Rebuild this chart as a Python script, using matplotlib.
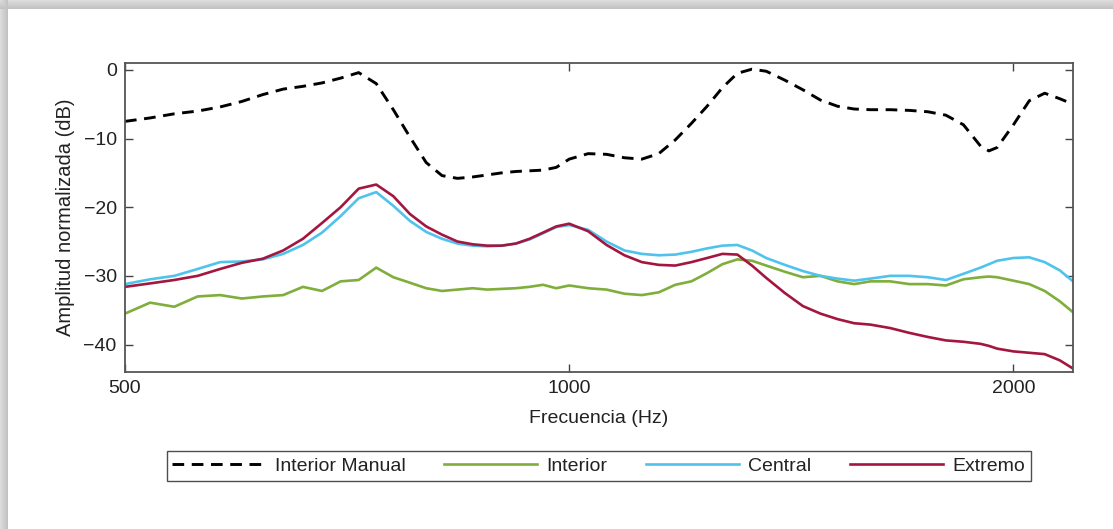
import numpy as np
import matplotlib
matplotlib.use("Agg")
import matplotlib.pyplot as plt
from matplotlib.ticker import FixedLocator, NullLocator, FixedFormatter

plt.rcParams['font.family'] = ['Liberation Sans', 'DejaVu Sans']

# frequency grid (Hz)
freq = [500, 520, 540, 560, 580, 600, 620, 640, 660, 680, 700, 720, 740, 760,
        780, 800, 820, 840, 860, 880, 900, 920, 940, 960, 980, 1000, 1030, 1060,
        1090, 1120, 1150, 1180, 1210, 1240, 1270, 1300, 1330, 1360, 1400, 1440,
        1480, 1520, 1560, 1600, 1650, 1700, 1750, 1800, 1850, 1900, 1925, 1950,
        2000, 2050, 2100, 2150, 2195]

# normalized amplitude (dB)
interior_manual = [-7.5, -7.0, -6.4, -6.0, -5.4, -4.6, -3.6, -2.8, -2.4, -1.9,
                   -1.2, -0.4, -2.0, -5.8, -9.8, -13.5, -15.4, -15.8, -15.6,
                   -15.3, -15.0, -14.8, -14.7, -14.6, -14.2, -13.0, -12.2, -12.3,
                   -12.8, -13.0, -12.2, -10.2, -7.8, -5.3, -2.6, -0.5, 0.1, -0.2,
                   -1.5, -2.9, -4.4, -5.3, -5.7, -5.8, -5.8, -5.9, -6.1, -6.6,
                   -8.0, -11.1, -11.8, -11.3, -8.0, -4.5, -3.4, -4.2, -5.0]
interior = [-35.5, -33.9, -34.5, -33.0, -32.8, -33.3, -33.0, -32.8, -31.6, -32.2,
            -30.8, -30.6, -28.8, -30.2, -31.0, -31.8, -32.2, -32.0, -31.8, -32.0,
            -31.9, -31.8, -31.6, -31.3, -31.8, -31.4, -31.8, -32.0, -32.6, -32.8,
            -32.4, -31.3, -30.8, -29.6, -28.3, -27.6, -27.8, -28.5, -29.4, -30.2,
            -30.0, -30.8, -31.2, -30.8, -30.8, -31.2, -31.2, -31.4, -30.5, -30.2,
            -30.1, -30.2, -30.7, -31.2, -32.2, -33.7, -35.3]
central = [-31.2, -30.5, -30.0, -29.0, -28.0, -27.9, -27.6, -26.8, -25.5, -23.7,
           -21.3, -18.7, -17.8, -19.8, -22.0, -23.6, -24.6, -25.3, -25.6, -25.7,
           -25.6, -25.3, -24.7, -23.8, -22.9, -22.6, -23.3, -25.0, -26.3, -26.8,
           -27.0, -26.9, -26.5, -26.0, -25.6, -25.5, -26.3, -27.4, -28.4, -29.3,
           -30.0, -30.4, -30.7, -30.4, -30.0, -30.0, -30.2, -30.6, -29.7, -28.8,
           -28.3, -27.8, -27.4, -27.3, -28.0, -29.2, -30.8]
extremo = [-31.6, -31.1, -30.6, -30.0, -29.0, -28.1, -27.5, -26.3, -24.6, -22.3,
           -20.0, -17.3, -16.7, -18.4, -21.0, -22.8, -24.0, -25.0, -25.4, -25.6,
           -25.6, -25.3, -24.6, -23.7, -22.8, -22.4, -23.5, -25.5, -27.0, -28.0,
           -28.4, -28.5, -28.0, -27.4, -26.8, -26.9, -28.5, -30.3, -32.5, -34.4,
           -35.5, -36.3, -36.9, -37.1, -37.6, -38.3, -38.9, -39.4, -39.6, -39.9,
           -40.2, -40.6, -41.0, -41.2, -41.4, -42.3, -43.5]

xticks = [500, 1000, 2000]
yticks = [0, -10, -20, -30, -40]

fig = plt.figure(figsize=(11.13, 5.29), dpi=100)

# card background with soft shadow on top/left
bg = fig.add_axes([0, 0, 1, 1], zorder=-10)
H, W = 529, 1113
img = np.ones((H, W))
for i in range(9):
    img[i, :] = 0.86 - 0.10 * i / 8
for j in range(8):
    img[:, j] = np.minimum(img[:, j], 0.86 - 0.10 * j / 7)
bg.imshow(img, cmap='gray', vmin=0, vmax=1, aspect='auto', interpolation='bilinear')
bg.axis('off')

ax = fig.add_axes([0.1123, 0.2968, 0.8518, 0.5841])
ax.plot(freq, interior_manual, color='black', lw=2.1, dashes=(4, 2.6),
        label='Interior Manual')
ax.plot(freq, interior, color='#7fae3b', lw=1.9, label='Interior')
ax.plot(freq, central, color='#4fc3ec', lw=1.9, label='Central')
ax.plot(freq, extremo, color='#a3163f', lw=1.9, label='Extremo')

ax.set_xscale('log')
ax.set_xlim(500, 2195)
ax.set_ylim(-44, 1)
ax.xaxis.set_major_locator(FixedLocator(xticks))
ax.xaxis.set_major_formatter(FixedFormatter([str(t) for t in xticks]))
ax.xaxis.set_minor_locator(NullLocator())
ax.set_yticks(yticks)
ax.tick_params(direction='in', length=6, width=1, top=True, right=True,
               labelsize=14, colors='#444444', labelcolor='#222222', pad=6)
for s in ax.spines.values():
    s.set_color('#555555')
    s.set_linewidth(1.3)

ax.set_xlabel('Frecuencia (Hz)', fontsize=14, color='#222222', labelpad=9)
ax.set_ylabel('Amplitud normalizada (dB)', fontsize=14.5, color='#222222', labelpad=6)

leg = fig.legend(loc='center', bbox_to_anchor=(0.538, 0.119), ncol=4,
                 frameon=True, fancybox=False, fontsize=14, handlelength=4.75,
                 handletextpad=0.5, columnspacing=2.0, borderpad=0.3)
leg.get_frame().set_edgecolor('#222222')
leg.get_frame().set_linewidth(1.0)
for t in leg.get_texts():
    t.set_color('#222222')

fig.savefig('out.png', dpi=100)
